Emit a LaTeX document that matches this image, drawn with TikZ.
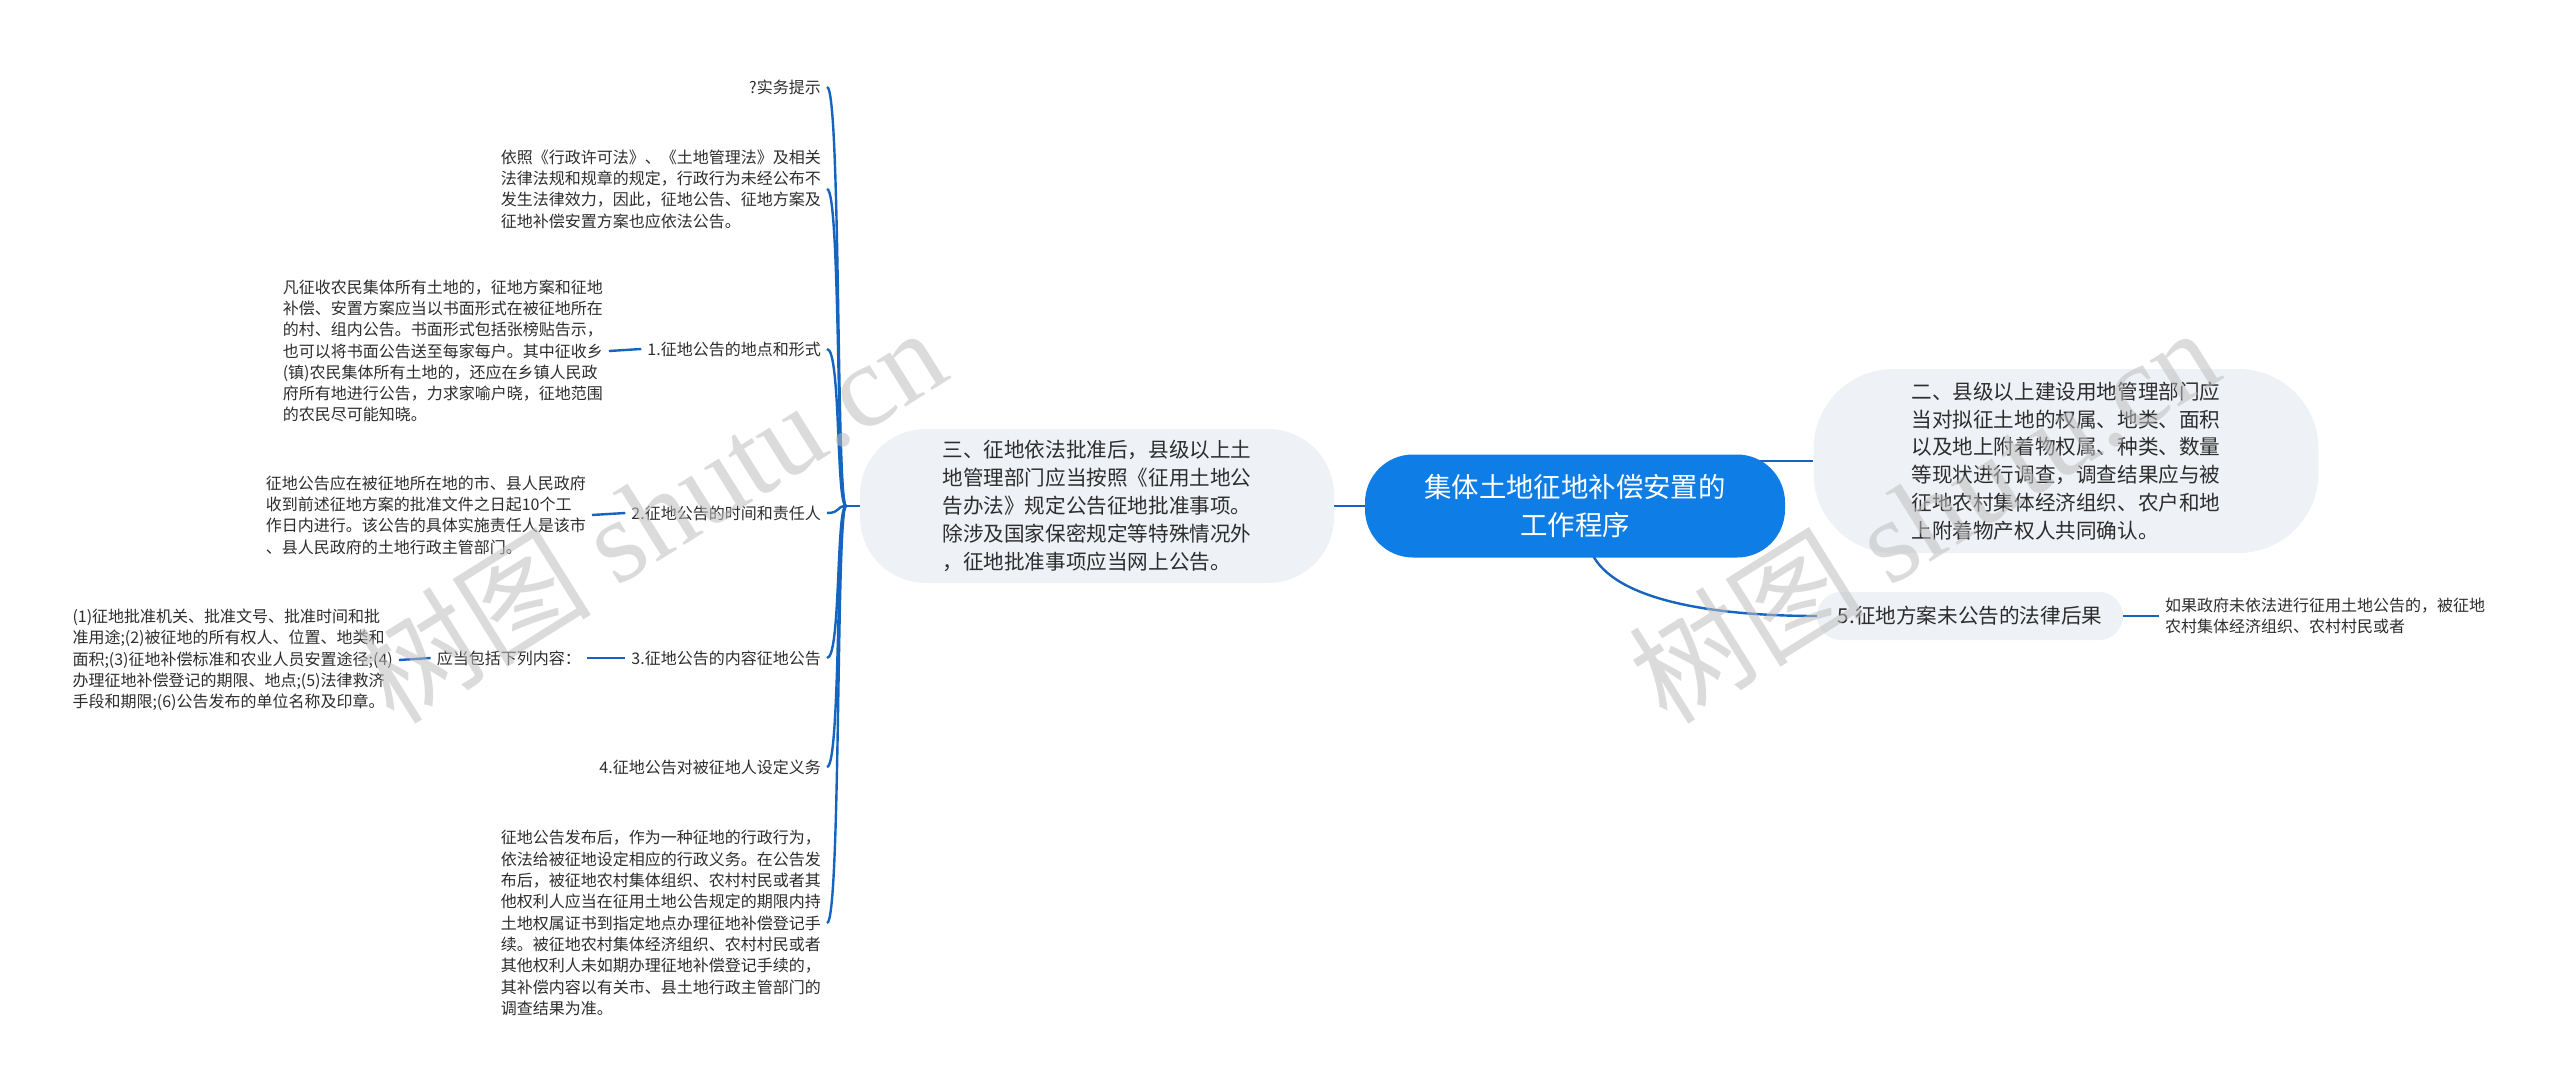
\documentclass[tikz,border=0pt]{standalone}
\usepackage{fontspec}
\setmainfont{Noto Sans CJK SC}
\newfontfamily\wmserif{Liberation Serif}
\usetikzlibrary{calc}
\pgfdeclarelayer{bg}
\pgfdeclarelayer{lines}
\pgfsetlayers{bg,lines,main}
\definecolor{linec}{RGB}{21,101,192}
\definecolor{rootc}{RGB}{14,125,230}
\definecolor{boxc}{RGB}{238,241,245}
\definecolor{txtc}{RGB}{45,45,45}
\definecolor{wmc}{RGB}{190,190,190}
\begin{document}
\begin{tikzpicture}[x=1pt,y=-1pt,
  conn/.style={draw=linec, line width=2.4pt},
  txt/.style={font=\fontsize{16}{21.3}\selectfont, text=txtc, align=left, inner xsep=6pt, inner ysep=3pt},
  midbox/.style={font=\fontsize{20.6}{27.8}\selectfont, text=txtc, align=left, fill=boxc, inner sep=0pt},
  rootn/.style={fill=rootc, text=white, font=\fontsize{27.4}{37.6}\selectfont, align=center, rounded corners=48pt, minimum width=420pt, minimum height=103pt, inner sep=0pt},
  wm/.style={text=wmc, opacity=0.55, rotate=32, font=\fontsize{118}{118}\selectfont, inner sep=0pt}
]
\useasboundingbox (0,0) rectangle (2560,1091);
\begin{pgfonlayer}{bg}
\fill[white] (0,0) rectangle (2560,1091);
\end{pgfonlayer}

% root
\node[rootn] (root) at (1575,506) {集体土地征地补偿安置的\\工作程序};

% right side
\node[midbox, rounded corners=80pt, minimum width=505pt, minimum height=184pt] (n2) at (2066,461)
{二、县级以上建设用地管理部门应\\当对拟征土地的权属、地类、面积\\以及地上附着物权属、种类、数量\\等现状进行调查，调查结果应与被\\征地农村集体经济组织、农户和地\\上附着物产权人共同确认。};
\node[midbox, rounded corners=24pt, minimum width=306pt, minimum height=48pt] (n5) at (1970,616) {5.征地方案未公告的法律后果};
\node[txt, anchor=west] (d5) at (2159,616) {如果政府未依法进行征用土地公告的，被征地\\农村集体经济组织、农村村民或者};

% left main child
\node[midbox, rounded corners=66pt, minimum width=474pt, minimum height=154pt] (n3) at (1097,506)
{三、征地依法批准后，县级以上土\\地管理部门应当按照《征用土地公\\告办法》规定公告征地批准事项。\\除涉及国家保密规定等特殊情况外\\，征地批准事项应当网上公告。};

\coordinate (hub) at (846,506);

% level 2 (left)
\node[txt, anchor=east] (a0) at (827,87) {?实务提示};
\node[txt, anchor=east] (a1) at (827,189) {依照《行政许可法》、《土地管理法》及相关\\法律法规和规章的规定，行政行为未经公布不\\发生法律效力，因此，征地公告、征地方案及\\征地补偿安置方案也应依法公告。};
\node[txt, anchor=east] (a2) at (827,349) {1.征地公告的地点和形式};
\node[txt, anchor=east] (a3) at (827,513) {2.征地公告的时间和责任人};
\node[txt, anchor=east] (a4) at (827,658) {3.征地公告的内容征地公告};
\node[txt, anchor=east] (a5) at (827,767) {4.征地公告对被征地人设定义务};
\node[txt, anchor=east] (a6) at (827,923) {征地公告发布后，作为一种征地的行政行为，\\依法给被征地设定相应的行政义务。在公告发\\布后，被征地农村集体组织、农村村民或者其\\他权利人应当在征用土地公告规定的期限内持\\土地权属证书到指定地点办理征地补偿登记手\\续。被征地农村集体经济组织、农村村民或者\\其他权利人未如期办理征地补偿登记手续的，\\其补偿内容以有关市、县土地行政主管部门的\\调查结果为准。};

% level 3 (left)
\node[txt, anchor=east] (b2) at (609,351) {凡征收农民集体所有土地的，征地方案和征地\\补偿、安置方案应当以书面形式在被征地所在\\的村、组内公告。书面形式包括张榜贴告示，\\也可以将书面公告送至每家每户。其中征收乡\\(镇)农民集体所有土地的，还应在乡镇人民政\\府所有地进行公告，力求家喻户晓，征地范围\\的农民尽可能知晓。};
\node[txt, anchor=east] (b3) at (592,515) {征地公告应在被征地所在地的市、县人民政府\\收到前述征地方案的批准文件之日起10个工\\作日内进行。该公告的具体实施责任人是该市\\、县人民政府的土地行政主管部门。};
\node[txt, anchor=east] (b4) at (587,658) {应当包括下列内容：};
\node[txt, anchor=east] (c4) at (399,660) {(1)征地批准机关、批准文号、批准时间和批\\准用途;(2)被征地的所有权人、位置、地类和\\面积;(3)征地补偿标准和农业人员安置途径;(4)\\办理征地补偿登记的期限、地点;(5)法律救济\\手段和期限;(6)公告发布的单位名称及印章。};

% connectors
\begin{pgfonlayer}{lines}
\draw[conn] (root.center) -- (n3.center);
\draw[conn] (root.center |- n2.west) -- (n2.west);
\coordinate (rs) at ($(root.south)+(17,-4)$);
\draw[conn] (rs) .. controls +(22,45) and +(-110,0) .. (n5.west);
\draw[conn] (n5.east) -- (d5.west);
\draw[conn] (n3.west) -- (hub);
\foreach \k in {a0,a1,a2,a3,a4,a5,a6}{
  \draw[conn] (hub) .. controls +(-10,0) and +(14,0) .. (\k.east);
}
\draw[conn] (b2.east) -- (a2.west);
\draw[conn] (b3.east) -- (a3.west);
\draw[conn] (b4.east) -- (a4.west);
\draw[conn] (c4.east) -- (b4.west);
\end{pgfonlayer}

% watermarks
\node[wm] (wm1) at (650,514) {树图 {\wmserif shutu.cn}};
\node[wm] (wm2) at (1923,514) {树图 {\wmserif shutu.cn}};
\end{tikzpicture}
\end{document}
